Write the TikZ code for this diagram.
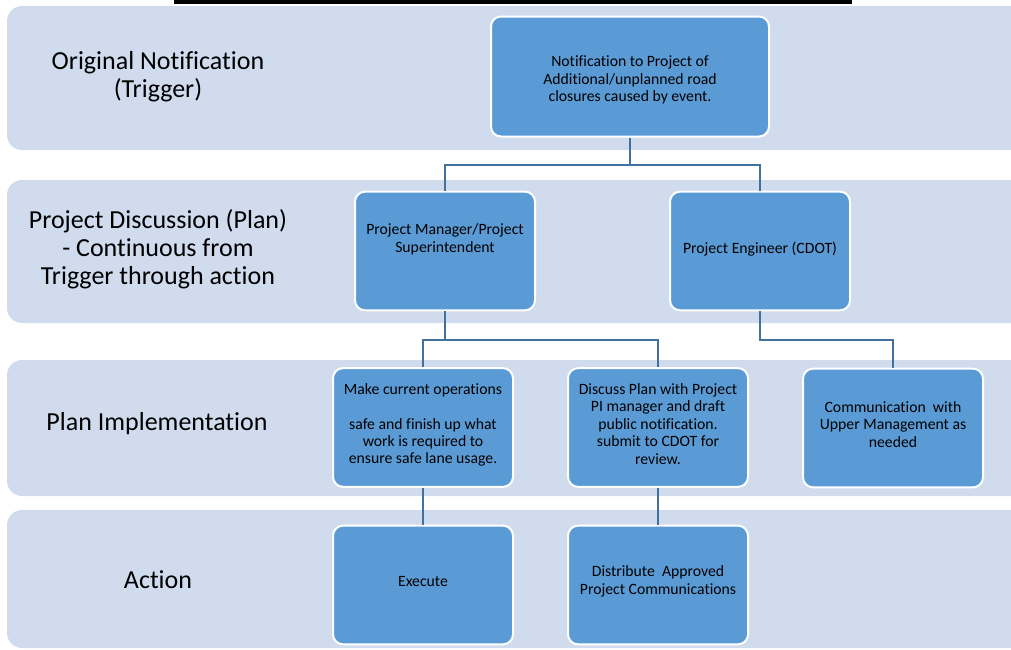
\documentclass[tikz,border=0pt]{standalone}
\usepackage{fontspec}
\setmainfont{Carlito}[Ligatures=NoCommon]
\definecolor{bandc}{HTML}{D0DCEE}
\definecolor{boxc}{HTML}{5B9BD5}
\definecolor{linec}{HTML}{41719C}
\begin{document}
\begin{tikzpicture}[x=0.75pt,y=-0.75pt,
  band/.style={fill=bandc, rounded corners=11.25pt},
  stepbox/.style={draw=white, line width=1.5pt, fill=boxc, rounded corners=7.5pt,
    minimum width=135pt, minimum height=89pt, inner sep=0pt},
  widebox/.style={stepbox, minimum width=208.5pt, minimum height=90pt},
  boxtext/.style={align=center, inner sep=0pt, text=black,
    font=\fontsize{11.8}{13.1}\selectfont},
  rowlabel/.style={align=center, inner sep=0pt, text=black,
    font=\fontsize{19.5}{21}\selectfont},
  conn/.style={draw=linec, line width=1.3pt}]
\useasboundingbox (0,0) rectangle (1011,650);
\clip (0,0) rectangle (1011,650);
% title bar
\fill[black] (174,0) rectangle (852,3.5);
% bands
\fill[band] (7,6) rectangle (1040,150);
\fill[band] (7,180) rectangle (1040,323);
\fill[band] (7,360) rectangle (1040,496);
\fill[band] (7,510) rectangle (1040,648);
% row labels
\node[rowlabel] (l1) at (158,77) {Original Notification\\(Trigger)};
\node[rowlabel] (l2) at (158,249) {Project Discussion (Plan)\\- Continuous from\\Trigger through action};
\node[rowlabel] (l3) at (157,424) {Plan Implementation};
\node[rowlabel] (l4) at (158,580) {Action};
% boxes
\node[widebox] (b1) at (630,76.5) {};
\node[stepbox] (b2) at (445,251) {};
\node[stepbox] (b3) at (760,251) {};
\node[stepbox] (b4) at (423,427.5) {};
\node[stepbox] (b5) at (658,427.5) {};
\node[stepbox] (b6) at (893,428) {};
\node[stepbox] (b7) at (423,585) {};
\node[stepbox] (b8) at (658,585) {};
% box texts
\node[boxtext] (t1) at (630,80) {Notification to Project of\\Additional/unplanned road\\closures caused by event.};
\node[boxtext] (t2) at (445,239.5) {Project Manager/Project\\Superintendent};
\node[boxtext] (t3) at (760,249) {Project Engineer (CDOT)};
\node[boxtext] (t4) at (423,425) {Make current operations\\[13pt] safe and finish up what\\work is required to\\ensure safe lane usage.};
\node[boxtext] (t5) at (658,424) {Discuss Plan with Project\\PI manager and draft\\public notification.\\submit to CDOT for\\review.};
\node[boxtext] (t6) at (893,424.5) {Communication\ \ with\\Upper Management as\\needed};
\node[boxtext] (t7) at (423,582) {Execute};
\node[boxtext] (t8) at (658,581.5) {Distribute\ \ Approved\\Project Communications};
% connectors
\coordinate (j1) at (630,165);
\coordinate (j2) at (445,340);
\coordinate (j3) at (760,340);
\draw[conn] (b1.south) -- (j1) -| (b2.north);
\draw[conn] (j1) -| (b3.north);
\draw[conn] (b2.south) -- (j2) -| (b4.north);
\draw[conn] (j2) -| (b5.north);
\draw[conn] (b3.south) -- (j3) -| (b6.north);
\draw[conn] (b4.south) -- (b7.north);
\draw[conn] (b5.south) -- (b8.north);
\end{tikzpicture}
\end{document}
